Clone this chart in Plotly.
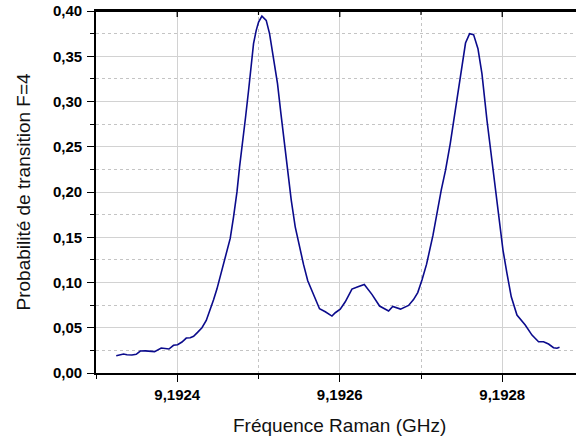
import plotly.graph_objects as go

# Raman frequency (GHz) and transition probability F=4
freq_ghz = [
    9.1923249, 9.1923339, 9.1923381, 9.1923442, 9.1923495, 9.1923545, 9.1923606,
    9.1923668, 9.1923721, 9.1923803, 9.1923852, 9.1923898, 9.1923954, 9.1924004,
    9.1924058, 9.1924111, 9.1924160, 9.1924201, 9.1924250, 9.1924304, 9.1924357,
    9.1924398, 9.1924447, 9.1924489, 9.1924529, 9.1924570, 9.1924603, 9.1924652,
    9.1924693, 9.1924735, 9.1924767, 9.1924804, 9.1924841, 9.1924878, 9.1924907,
    9.1924939, 9.1924972, 9.1925001, 9.1925042, 9.1925095, 9.1925136, 9.1925185,
    9.1925234, 9.1925276, 9.1925317, 9.1925362, 9.1925403, 9.1925452, 9.1925502,
    9.1925554, 9.1925606, 9.1925678, 9.1925751, 9.1925822, 9.1925904, 9.1925945,
    9.1926006, 9.1926068, 9.1926150, 9.1926224, 9.1926302, 9.1926396, 9.1926490,
    9.1926601, 9.1926652, 9.1926748, 9.1926847, 9.1926908, 9.1926960, 9.1927012,
    9.1927068, 9.1927147, 9.1927196, 9.1927249, 9.1927302, 9.1927360, 9.1927422,
    9.1927492, 9.1927548, 9.1927598, 9.1927647, 9.1927701, 9.1927750, 9.1927812,
    9.1927865, 9.1927914, 9.1927963, 9.1928009, 9.1928058, 9.1928111, 9.1928181,
    9.1928283, 9.1928366, 9.1928447, 9.1928508, 9.1928570, 9.1928631, 9.1928673,
    9.1928705,
]
probability = [
    0.0191, 0.0210, 0.0202, 0.0199, 0.0206, 0.0243, 0.0245,
    0.0243, 0.0236, 0.0276, 0.0272, 0.0265, 0.0306, 0.0313,
    0.0342, 0.0386, 0.0390, 0.0405, 0.0449, 0.0500, 0.0580,
    0.0680, 0.0810, 0.0930, 0.1070, 0.1190, 0.1302, 0.1487,
    0.1725, 0.2001, 0.2277, 0.2535, 0.2829, 0.3124, 0.3381,
    0.3639, 0.3786, 0.3878, 0.3944, 0.3896, 0.3750, 0.3491,
    0.3198, 0.2867, 0.2535, 0.2204, 0.1910, 0.1615, 0.1394,
    0.1200, 0.1020, 0.0861, 0.0710, 0.0677, 0.0629, 0.0666,
    0.0706, 0.0787, 0.0927, 0.0953, 0.0979, 0.0869, 0.0740,
    0.0686, 0.0736, 0.0706, 0.0747, 0.0811, 0.0889, 0.1027,
    0.1200, 0.1520, 0.1763, 0.2020, 0.2241, 0.2535, 0.2903,
    0.3326, 0.3646, 0.3750, 0.3739, 0.3584, 0.3308, 0.2793,
    0.2388, 0.2020, 0.1652, 0.1358, 0.1100, 0.0842, 0.0640,
    0.0530, 0.0419, 0.0346, 0.0346, 0.0320, 0.0279, 0.0273,
    0.0284,
]

# tick values of the (unlabelled) top frame axis
top_major_ticks = [9.1924, 9.1926, 9.1928]
top_minor_ticks = [9.1925, 9.1927]

x_title = "Fréquence Raman (GHz)"
y_title = "Probabilité de transition F=4"

X_RANGE = [9.1923, 9.19289077]
Y_RANGE = [0.0, 0.40]

FONT = "Liberation Sans, Arial, sans-serif"
tick_font = dict(family=FONT, size=15, color="#000000", weight="bold")
MAJOR_GRID = "#d2d2d2"
MINOR_GRID = "#c4c4c4"
PLOT_H = 362  # plot area height in px

fig = go.Figure()
fig.add_trace(go.Scatter(
    x=freq_ghz, y=probability, mode="lines",
    line=dict(color="#0b0b8c", width=1.6),
    showlegend=False, hoverinfo="x+y",
))

shapes = [dict(type="line", xref="paper", yref="paper", x0=0, x1=1, y0=1, y1=1,
               line=dict(color="black", width=1.8), layer="above")]
for v in top_major_ticks:
    shapes.append(dict(type="line", xref="x", yref="paper", x0=v, x1=v,
                       y0=1, y1=1 - 6 / PLOT_H,
                       line=dict(color="black", width=1.3), layer="above"))
for v in top_minor_ticks:
    shapes.append(dict(type="line", xref="x", yref="paper", x0=v, x1=v,
                       y0=1, y1=1 - 4 / PLOT_H,
                       line=dict(color="black", width=1.2), layer="above"))

fig.update_layout(
    width=576, height=441,
    margin=dict(l=96, r=0, t=11, b=68),
    paper_bgcolor="white", plot_bgcolor="white",
    separators=",.",
    showlegend=False,
    shapes=shapes,
    xaxis=dict(
        range=X_RANGE, tick0=9.1924, dtick=0.0002, tickformat=".4f",
        showline=True, linecolor="black", linewidth=1.6, mirror=True,
        ticks="outside", ticklen=7, tickwidth=1.3, tickcolor="black",
        showgrid=True, gridcolor=MAJOR_GRID, gridwidth=1,
        zeroline=False, tickfont=tick_font, ticklabeloverflow="allow",
        minor=dict(tick0=9.1923, dtick=0.0001, ticks="outside", ticklen=4,
                   tickwidth=1.2, tickcolor="black", showgrid=True,
                   gridcolor=MINOR_GRID, griddash="dot", gridwidth=1),
    ),
    yaxis=dict(
        range=Y_RANGE, tick0=0, dtick=0.05, tickformat=".2f",
        showline=True, linecolor="black", linewidth=1.6,
        ticks="outside", ticklen=7, tickwidth=1.3, tickcolor="black",
        showgrid=True, gridcolor=MAJOR_GRID, gridwidth=1,
        zeroline=False, tickfont=tick_font, ticklabelstandoff=2,
        ticklabeloverflow="allow",
        minor=dict(tick0=0, dtick=0.025, ticks="outside", ticklen=4,
                   tickwidth=1.2, tickcolor="black", showgrid=True,
                   gridcolor=MINOR_GRID, griddash="dot", gridwidth=1),
    ),
    annotations=[
        dict(text=x_title, xref="paper", yref="paper",
             x=(339 - 96) / 480, y=(373 - 425) / PLOT_H,
             xanchor="center", yanchor="middle", showarrow=False,
             font=dict(family=FONT, size=19, color="#111111")),
        dict(text=y_title, xref="paper", yref="paper",
             x=(22.5 - 96) / 480, y=0.5, textangle=-90,
             xanchor="center", yanchor="middle", showarrow=False,
             font=dict(family=FONT, size=19, color="#111111")),
    ],
)

fig.write_html("out.html", config={"displayModeBar": False},
               post_script="document.body.style.margin='0';")
